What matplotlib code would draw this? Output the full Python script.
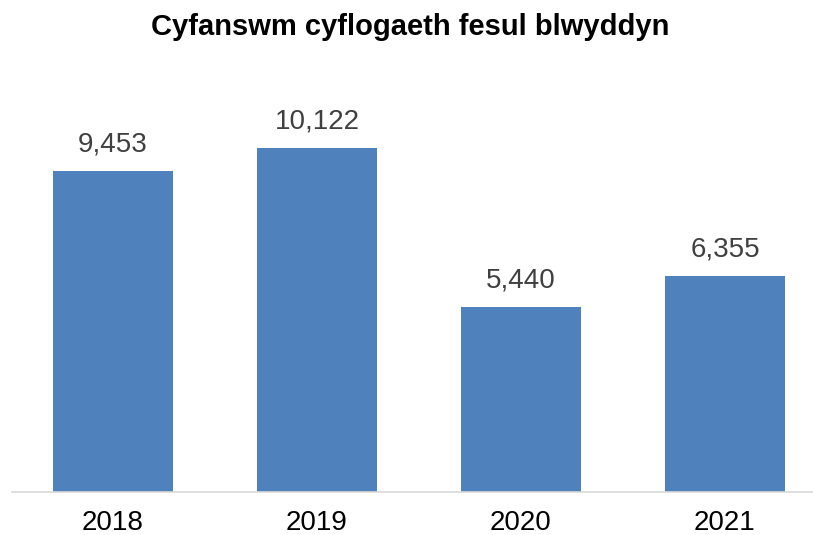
import matplotlib
matplotlib.use("Agg")
import matplotlib.pyplot as plt

#+++ Data
years = ["2018", "2019", "2020", "2021"]
totals = [9453, 10122, 5440, 6355]
value_labels = ["9,453", "10,122", "5,440", "6,355"]
#---

#+++ Figure
plt.rcParams["font.family"] = ["Liberation Sans", "DejaVu Sans"]
W, H = 813, 535
fig = plt.figure(figsize=(W / 100, H / 100), dpi=100)

# axes placed in pixel coordinates: baseline at y=492, category spacing 204 px
x0, x1 = 12, 12 + 4 * 204
ytop = 84.5
ax = fig.add_axes([x0 / W, 1 - 492 / H, (x1 - x0) / W, (492 - ytop) / H])
ax.set_xlim(-0.495, 3.505)
ax.set_ylim(0, 12000)

x = list(range(len(years)))
bars = ax.bar(x, totals, width=0.585, color="#4F81BD", zorder=2)
for xi, v, lab in zip(x, totals, value_labels):
    ax.annotate(lab, (xi, v), xytext=(0, 10), textcoords="offset points",
                ha="center", va="bottom", fontsize=20, color="#404040")

ax.set_xticks(x)
ax.set_xticklabels(years, fontsize=20, color="black")
ax.tick_params(axis="x", length=0, pad=13)
ax.set_yticks([])
for side in ["top", "right", "left"]:
    ax.spines[side].set_visible(False)
ax.spines["bottom"].set_color("#D9D9D9")
ax.spines["bottom"].set_linewidth(1.2)

fig.text(410 / W, 1 - 27 / H, "Cyfanswm cyflogaeth fesul blwyddyn",
         ha="center", va="center", fontsize=21, fontweight="bold")
#---

fig.savefig("out.png", dpi=100)
